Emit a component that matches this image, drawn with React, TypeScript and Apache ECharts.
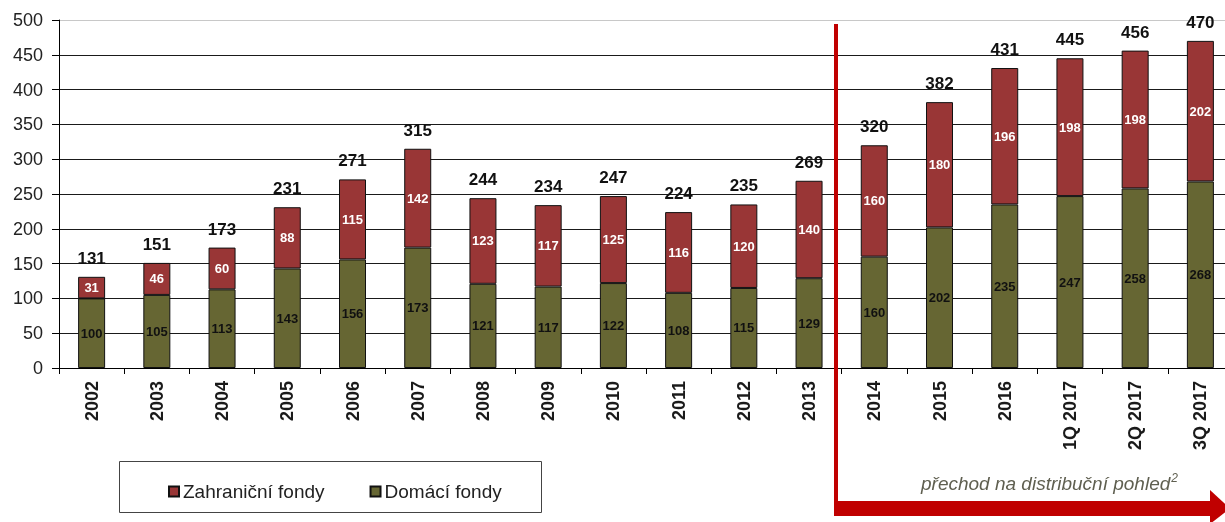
import React, { useEffect, useRef } from "react";
import * as echarts from "echarts";

const categories = ["2002", "2003", "2004", "2005", "2006", "2007", "2008", "2009", "2010", "2011", "2012", "2013", "2014", "2015", "2016", "1Q 2017", "2Q 2017", "3Q 2017"];
const domestic = [100, 105, 113, 143, 156, 173, 121, 117, 122, 108, 115, 129, 160, 202, 235, 247, 258, 268];
const foreign = [31, 46, 60, 88, 115, 142, 123, 117, 125, 116, 120, 140, 160, 180, 196, 198, 198, 202];
const totals = [131, 151, 173, 231, 271, 315, 244, 234, 247, 224, 235, 269, 320, 382, 431, 445, 456, 470];
const yTicks = { min: 0, max: 500, interval: 50 };
const legendNames = ["Zahraniční fondy", "Domácí fondy"];
const noteText = "přechod na distribuční pohled";

export default function App() {
  const ref = useRef<HTMLDivElement>(null);
  useEffect(() => {
    if (!ref.current) return;
    const chart = echarts.init(ref.current, undefined, { renderer: "svg" });
    const gridColors = Array.from({ length: 11 }, (_, i) => (i === 10 ? "#c8c8c8" : "#1a1a1a"));
    chart.setOption({
      animation: false,
      textStyle: { fontFamily: "Liberation Sans, Arial, sans-serif" },
      grid: { left: 59, top: 20, bottom: 154, right: 0, containLabel: false },
      legend: {
        data: legendNames,
        left: 163,
        top: 477,
        itemWidth: 10,
        itemHeight: 10,
        itemGap: 45,
        icon: "rect",
        textStyle: { fontSize: 19, color: "#222", padding: [0, 0, 0, -1] },
      },
      xAxis: {
        type: "category",
        data: categories,
        axisLine: { lineStyle: { color: "#000", width: 1 } },
        axisTick: { show: true, length: 6, lineStyle: { color: "#000" } },
        axisLabel: { rotate: 90, margin: 13, fontSize: 18, fontWeight: "bold", color: "#1a1a1a" },
      },
      yAxis: {
        type: "value",
        min: yTicks.min,
        max: yTicks.max,
        interval: yTicks.interval,
        axisLine: { show: true, lineStyle: { color: "#000", width: 1 } },
        axisTick: { show: true, length: 7, lineStyle: { color: "#000" } },
        axisLabel: { fontSize: 18, color: "#222", margin: 16 },
        splitLine: { show: true, lineStyle: { color: gridColors, width: 1 } },
      },
      series: [
        {
          name: "Domácí fondy",
          type: "bar",
          stack: "a",
          data: domestic,
          barWidth: 27,
          barGap: "-100%",
          itemStyle: { color: "#666633", borderColor: "#111", borderWidth: 1 },
          label: { show: true, position: "inside", fontSize: 13, fontWeight: "bold", color: "#111" },
          z: 3,
        },
        {
          name: "Zahraniční fondy",
          type: "bar",
          stack: "a",
          data: foreign,
          barWidth: 27,
          barGap: "-100%",
          itemStyle: { color: "#993636", borderColor: "#111", borderWidth: 1 },
          label: { show: true, position: "inside", fontSize: 13, fontWeight: "bold", color: "#fff" },
          z: 3,
        },
        {
          name: "total",
          type: "bar",
          data: totals,
          barWidth: 27,
          barGap: "-100%",
          silent: true,
          itemStyle: { color: "rgba(0,0,0,0)", borderWidth: 0 },
          label: { show: true, position: "top", distance: 10, fontSize: 17, fontWeight: "bold", color: "#111" },
          z: 1,
        },
      ],
      graphic: [
        {
          type: "rect",
          shape: { x: 119.5, y: 461.5, width: 422, height: 51 },
          style: { fill: "none", stroke: "#444", lineWidth: 1 },
          z: -1,
        },
        {
          type: "rect",
          shape: { x: 834, y: 24, width: 4, height: 492 },
          style: { fill: "#c00000" },
          z: 10,
        },
        {
          type: "rect",
          shape: { x: 834, y: 501, width: 378, height: 15 },
          style: { fill: "#c00000" },
          z: 10,
        },
        {
          type: "polygon",
          shape: { points: [[1210, 490], [1230, 508.5], [1210, 524]] },
          style: { fill: "#c00000" },
          z: 10,
        },
        {
          type: "text",
          x: 921,
          y: 483,
          style: {
            text: "{a|" + noteText + "}{s|2}",
            verticalAlign: "middle",
            rich: {
              a: { fontSize: 19, fontStyle: "italic", fill: "#5f5f50", fontFamily: "Liberation Sans, Arial, sans-serif" },
              s: { fontSize: 12, fontStyle: "italic", fill: "#5f5f50", verticalAlign: "top", padding: [0, 0, 10, 1], fontFamily: "Liberation Sans, Arial, sans-serif" },
            },
          },
          z: 10,
        },
      ],
    });
    return () => chart.dispose();
  }, []);
  return <div ref={ref} style={{ position: "fixed", left: 0, top: 0, width: 1233, height: 522 }} />;
}
